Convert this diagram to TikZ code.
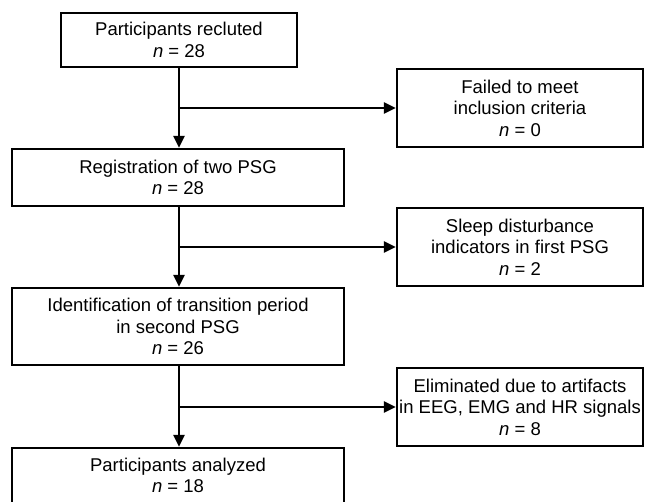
\documentclass[tikz,border=0pt]{standalone}
\usepackage{fontspec}
\setmainfont{Liberation Sans}
\usetikzlibrary{arrows.meta}
\begin{document}
\begin{tikzpicture}[x=1pt,y=-1pt,line width=2.4pt,
	box/.style={draw,align=center,inner sep=0pt,font=\fontsize{18.5}{21.5}\selectfont},
	side/.style={box,minimum width=246pt,minimum height=78pt},
	main/.style={box,minimum width=332pt},
	arr/.style={-{Triangle[length=12pt,width=11pt]}}]
			\useasboundingbox (0,0) rectangle (645,501);
			\node[box,minimum width=236pt,minimum height=54pt] (recruit) at (179,40) {Participants recluted\\\textit{n} = 28};
			\node[side] (failed) at (520,108) {Failed to meet\\inclusion criteria\\\textit{n} = 0};
			\node[main,minimum height=57pt] (register) at (178,177.5) {Registration of two PSG\\\textit{n} = 28};
			\node[side] (sleep) at (520,247) {Sleep disturbance\\indicators in first PSG\\\textit{n} = 2};
			\node[main,minimum height=77pt] (ident) at (178,326.5) {Identification of transition period\\in second PSG\\\textit{n} = 26};
			\node[side] (artif) at (520,407) {Eliminated due to artifacts\\in EEG, EMG and HR signals\\\textit{n} = 8};
			\node[main,minimum height=55pt] (analyzed) at (178,475.5) {Participants analyzed\\\textit{n} = 18};
			\draw[arr] (recruit.south) -- (recruit.south |- register.north);
			\draw[arr] (recruit.south |- failed.west) -- (failed.west);
			\draw[arr] (recruit.south |- register.south) -- (recruit.south |- ident.north);
			\draw[arr] (recruit.south |- sleep.west) -- (sleep.west);
			\draw[arr] (recruit.south |- ident.south) -- (recruit.south |- analyzed.north);
			\draw[arr] (recruit.south |- artif.west) -- (artif.west);
		\end{tikzpicture}
\end{document}
